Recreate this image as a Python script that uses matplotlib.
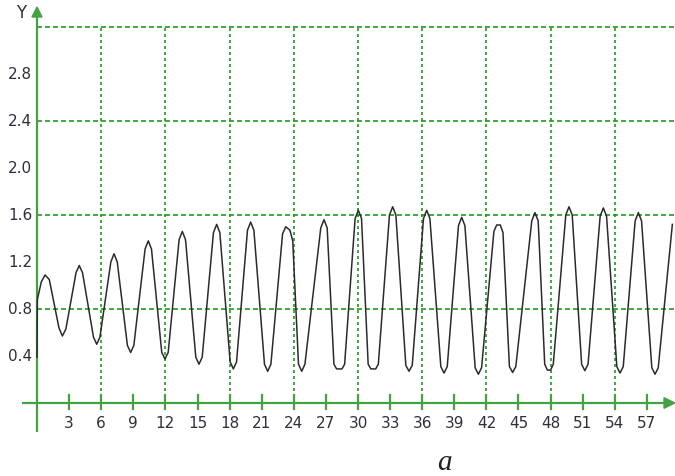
import matplotlib
matplotlib.use("Agg")
import matplotlib.pyplot as plt
from matplotlib.patches import Polygon

# Response curve samples (time, Y)
t = [0.0, 0.03, 0.4, 0.75, 1.15, 2.05, 2.37, 2.7, 3.65, 3.95, 4.25, 5.28, 5.58, 5.88,
     6.9, 7.2, 7.5, 8.45, 8.75, 9.05, 10.1, 10.4, 10.7, 11.66, 11.96, 12.26,
     13.28, 13.58, 13.88, 14.84, 15.14, 15.44, 16.49, 16.79, 17.09, 18.05, 18.35, 18.65,
     19.67, 19.97, 20.27, 21.26, 21.56, 21.86, 22.95, 23.25, 23.64, 23.9, 24.44, 24.74,
     25.04, 26.52, 26.82, 27.12, 27.75, 28.0, 28.5, 28.75, 29.73, 30.03, 30.33,
     30.95, 31.2, 31.65, 31.9, 32.94, 33.24, 33.54, 34.47, 34.77, 35.07,
     36.12, 36.42, 36.72, 37.74, 38.04, 38.34, 39.39, 39.69, 39.99, 40.95, 41.25, 41.55,
     42.7, 42.96, 43.3, 43.55, 44.15, 44.45, 44.75, 46.24, 46.54, 46.84,
     47.45, 47.7, 48.0, 48.25, 49.42, 49.72, 50.02, 50.9, 51.2, 51.5,
     52.63, 52.93, 53.23, 54.19, 54.49, 54.79, 55.9, 56.2, 56.5, 57.46, 57.76, 58.06, 59.38]
y = [0.39, 0.88, 1.03, 1.09, 1.05, 0.64, 0.57, 0.63, 1.11, 1.17, 1.11, 0.56, 0.50, 0.56,
     1.20, 1.27, 1.20, 0.49, 0.43, 0.49, 1.31, 1.38, 1.31, 0.43, 0.375, 0.43,
     1.39, 1.46, 1.39, 0.39, 0.33, 0.39, 1.45, 1.52, 1.45, 0.35, 0.29, 0.35,
     1.47, 1.54, 1.47, 0.33, 0.27, 0.33, 1.44, 1.50, 1.47, 1.38, 0.33, 0.27,
     0.33, 1.49, 1.56, 1.49, 0.33, 0.29, 0.29, 0.33, 1.57, 1.64, 1.57,
     0.33, 0.29, 0.29, 0.33, 1.60, 1.67, 1.60, 0.32, 0.27, 0.32,
     1.57, 1.64, 1.57, 0.31, 0.255, 0.31, 1.51, 1.58, 1.51, 0.30, 0.245, 0.30,
     1.46, 1.515, 1.515, 1.45, 0.31, 0.26, 0.31, 1.55, 1.62, 1.55,
     0.33, 0.28, 0.28, 0.33, 1.60, 1.67, 1.60, 0.33, 0.275, 0.33,
     1.59, 1.66, 1.59, 0.31, 0.255, 0.31, 1.55, 1.62, 1.55, 0.30, 0.245, 0.30, 1.52]

x_ticks = list(range(3, 58, 3))
x_grid = list(range(6, 55, 6))
y_ticks = [0.4, 0.8, 1.2, 1.6, 2.0, 2.4, 2.8]
y_grid = [0.8, 1.6, 2.4, 3.2]

GRID = "#1f9a1f"
AXIS = "#43a343"
TEXT = "#2e2f3c"

fig = plt.figure(figsize=(6.75, 4.77), dpi=100)
ax = fig.add_axes([0, 0, 1, 1])
ax.set_xlim(-37 / 10.7, 638 / 10.7)
ax.set_ylim(-73 / 117.5, 404 / 117.5)
ax.axis("off")

# grid
for gy in y_grid:
    ax.plot([0, 62], [gy, gy], color=GRID, lw=1.2, ls=(0, (3, 1.8)), zorder=1)
for gx in x_grid:
    ax.plot([gx, gx], [0, 3.2], color=GRID, lw=1.2, ls=(0, (1.8, 1.8)), zorder=1)

# axes with arrows
ax.plot([0, 0], [-0.25, 3.30], color=AXIS, lw=1.6, zorder=2, solid_capstyle="butt")
ax.plot([-1.4, 58.8], [0, 0], color=AXIS, lw=1.6, zorder=2, solid_capstyle="butt")
ax.add_patch(Polygon([[-0.47, 3.285], [0.47, 3.285], [0, 3.37]], closed=True,
                     color=AXIS, zorder=2, clip_on=False))
ax.add_patch(Polygon([[58.6, 0.045], [58.6, -0.045], [59.6, 0]], closed=True,
                     color=AXIS, zorder=2, clip_on=False))

# x ticks and labels
for xt in x_ticks:
    ax.plot([xt, xt], [-0.055, 0.065], color=AXIS, lw=1.6, zorder=2)
    ax.text(xt, -0.17, str(xt), ha="center", va="center", fontsize=11,
            family="DejaVu Sans", color=TEXT)

# y labels
for yt in y_ticks:
    ax.text(-0.45, yt, f"{yt:.1f}", ha="right", va="center", fontsize=11,
            family="DejaVu Sans", color=TEXT)

ax.text(-1.45, 3.33, "Y", ha="center", va="center", fontsize=12,
        family="DejaVu Sans", color=TEXT)

# response curve
ax.plot(t, y, color="#2b2b2b", lw=1.1, zorder=3)

fig.text(444 / 675, 1 - 463 / 477, "a", ha="center", va="center", fontsize=21,
         family="Liberation Serif", style="italic", color="#222222")

fig.savefig("out.png", dpi=100)
